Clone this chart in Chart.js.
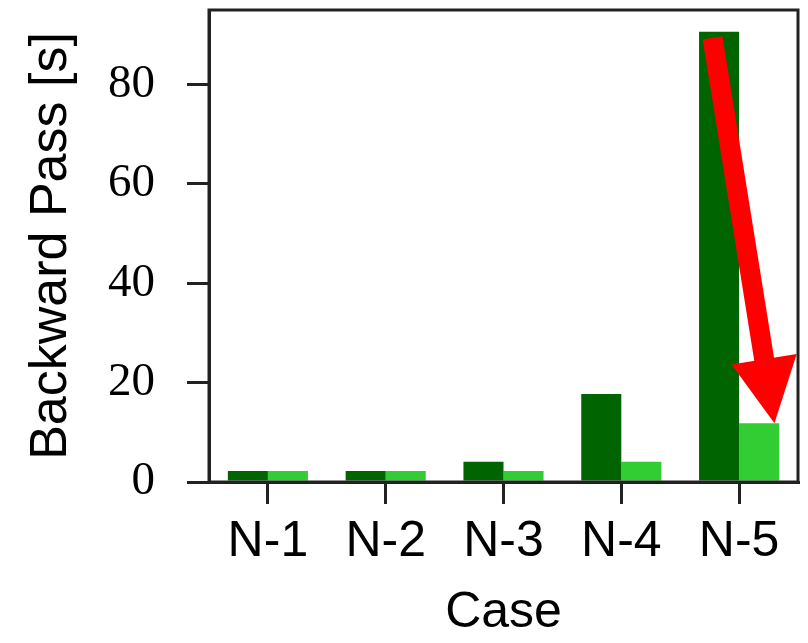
<!DOCTYPE html>
<html>
<head>
<meta charset="utf-8">
<script src="https://cdn.jsdelivr.net/npm/chart.js@4"></script>
<style>
  html, body { margin: 0; padding: 0; background: #fff; }
  #wrap { width: 808px; height: 643px; }
</style>
</head>
<body>
<div id="wrap"><canvas id="chart"></canvas></div>
<script>
// data
const cases = ["N-1", "N-2", "N-3", "N-4", "N-5"];
const baselineTimes = [2.2, 2.2, 4.1, 17.7, 90.6];
const improvedTimes = [2.2, 2.2, 2.2, 4.1, 11.8];
const yTicks = [0, 20, 40, 60, 80];

const COLORS = { dark: "#006400", light: "#32cd32", arrow: "#ff0000", axis: "#222222" };

// red arrow annotation, in data units (category index offset, seconds)
const ARROW = { fromCat: 4, fromDx: -0.225, fromY: 89.4, toCat: 4, toDx: 0.3, toY: 11.8 };

const boxPlugin = {
  id: "box",
  afterDraw(chart) {
    const { ctx, chartArea: a, scales } = chart;
    const xs = scales.x, ys = scales.y;
    const step = xs.getPixelForValue(1) - xs.getPixelForValue(0);
    const x0 = xs.getPixelForValue(ARROW.fromCat) + ARROW.fromDx * step;
    const y0 = ys.getPixelForValue(ARROW.fromY);
    const x1 = xs.getPixelForValue(ARROW.toCat) + ARROW.toDx * step;
    const y1 = ys.getPixelForValue(ARROW.toY);
    const len = Math.hypot(x1 - x0, y1 - y0);
    const ux = (x1 - x0) / len, uy = (y1 - y0) / len;
    const headLen = 65, headHalf = 33;
    const bx = x1 - ux * headLen, by = y1 - uy * headLen;

    ctx.save();
    ctx.strokeStyle = COLORS.arrow;
    ctx.fillStyle = COLORS.arrow;
    ctx.lineWidth = 20;
    ctx.beginPath();
    ctx.moveTo(x0, y0);
    ctx.lineTo(bx + ux * 2, by + uy * 2);
    ctx.stroke();
    ctx.beginPath();
    ctx.moveTo(x1, y1);
    ctx.lineTo(bx - uy * headHalf, by + ux * headHalf);
    ctx.lineTo(bx + uy * headHalf, by - ux * headHalf);
    ctx.closePath();
    ctx.fill();

    ctx.strokeStyle = COLORS.axis;
    ctx.lineWidth = 3;
    ctx.strokeRect(a.left, a.top, a.right - a.left, a.bottom - a.top);
    ctx.restore();
  },
};

new Chart(document.getElementById("chart"), {
  type: "bar",
  data: {
    labels: cases,
    datasets: [
      { label: "baseline", data: baselineTimes, backgroundColor: COLORS.dark, borderWidth: 0 },
      { label: "improved", data: improvedTimes, backgroundColor: COLORS.light, borderWidth: 0 },
    ],
  },
  options: {
    responsive: true,
    maintainAspectRatio: false,
    animation: false,
    layout: { padding: { top: 10, right: 10, left: 0, bottom: 0 } },
    datasets: { bar: { categoryPercentage: 0.68, barPercentage: 1 } },
    plugins: { legend: { display: false }, tooltip: { enabled: false } },
    scales: {
      x: {
        offset: true,
        afterFit: (s) => { s.height = 161; s.paddingLeft = 0; s.paddingRight = 0; },
        grid: { offset: false, drawOnChartArea: false, tickLength: 22, color: COLORS.axis, lineWidth: 3 },
        border: { color: COLORS.axis, width: 3 },
        ticks: { color: "#000", padding: 8, font: { family: "'Liberation Sans', Arial, sans-serif", size: 50 } },
        title: {
          display: true, text: "Case", color: "#000", padding: { top: 0, bottom: 0 },
          font: { family: "'Liberation Sans', Arial, sans-serif", size: 50 },
        },
      },
      y: {
        min: 0,
        max: 95,
        afterFit: (s) => { s.width = 209; s.paddingTop = 0; s.paddingBottom = 0; },
        afterBuildTicks: (s) => { s.ticks = yTicks.map((v) => ({ value: v })); },
        grid: { drawOnChartArea: false, tickLength: 22, color: COLORS.axis, lineWidth: 3 },
        border: { color: COLORS.axis, width: 3 },
        ticks: { color: "#000", padding: 32, font: { family: "'Liberation Serif', 'DejaVu Serif', serif", size: 47 } },
        title: {
          display: true, text: "Backward Pass [s]", color: "#000", padding: { top: 20, bottom: 0 },
          font: { family: "'Liberation Sans', Arial, sans-serif", size: 52 },
        },
      },
    },
  },
  plugins: [boxPlugin],
});
</script>
</body>
</html>
